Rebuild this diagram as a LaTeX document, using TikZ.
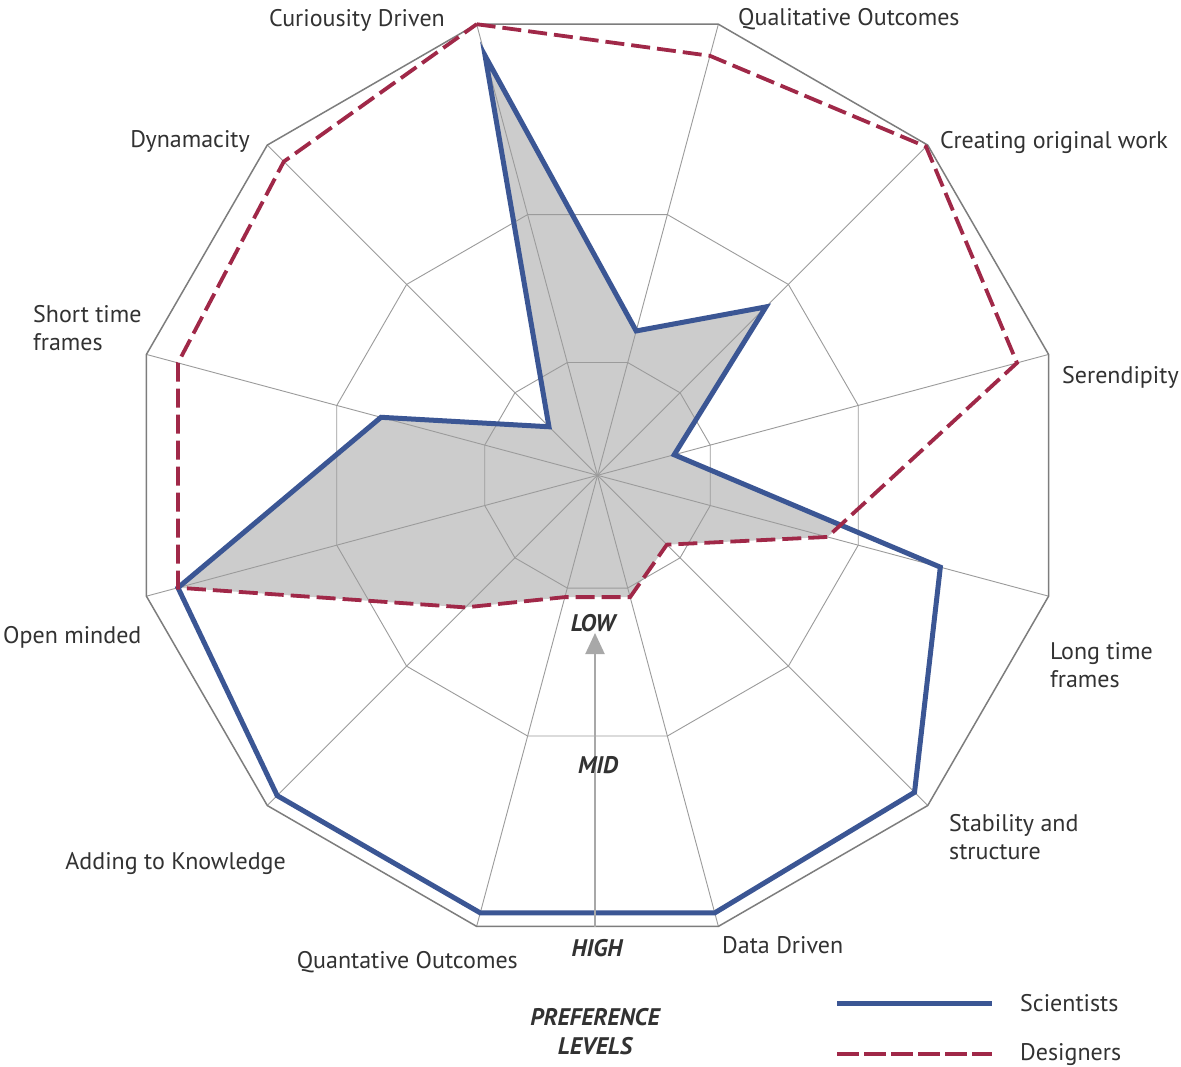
\documentclass[tikz,border=0pt]{standalone}
\usepackage{fontspec}
\setmainfont{PT Sans}
\usetikzlibrary{arrows.meta}
\definecolor{sciblue}{RGB}{59,86,148}
\definecolor{desred}{RGB}{160,40,72}
\definecolor{gridgray}{RGB}{155,155,155}
\definecolor{outergray}{RGB}{125,125,125}
\definecolor{fillgray}{RGB}{204,204,204}
\definecolor{txt}{RGB}{50,50,50}
\definecolor{arrowgray}{RGB}{168,168,168}
\begin{document}
\begin{tikzpicture}[x=1pt,y=-1pt,
  lbl/.style={font=\fontsize{24}{28}\selectfont, text=txt, inner sep=0pt, align=left},
  lvl/.style={font=\fontsize{24}{29}\selectfont\bfseries\itshape, text=txt, inner sep=0pt, align=center},
  gridline/.style={draw=gridgray, line width=0.9pt},
  outerline/.style={draw=outergray, line width=1.5pt},
  sciline/.style={draw=sciblue, line width=5pt, line join=miter},
  desline/.style={draw=desred, line width=3.8pt, dash pattern=on 19pt off 7pt, line join=miter},
  scalearrow/.style={draw=arrowgray, line width=2pt, -{Triangle[width=19pt,length=21pt]}}
]
\fill[white] (0,0) rectangle (1181,1066);
\useasboundingbox (0,0) rectangle (1181,1066);

\begin{scope}[shift={(597.5,475.3)}, yscale=-1]
  \def\R{467}
  \coordinate (O) at (0,0);
  \foreach \i/\a in {0/105,1/75,2/45,3/15,4/-15,5/-45,6/-75,7/-105,8/-135,9/-165,10/165,11/135}{
    \coordinate (ax\i) at ({\a}:{\R});
  }
  % scientists values
  \foreach \i/\a/\v in {0/105/0.93,1/75/0.32,2/45/0.51,3/15/0.17,4/-15/0.76,5/-45/0.96,6/-75/0.97,7/-105/0.97,8/-135/0.97,9/-165/0.93,10/165/0.48,11/135/0.147}{
    \coordinate (s\i) at ({\a}:{\v*\R});
  }
  % designers values
  \foreach \i/\a/\v in {0/105/1.0,1/75/0.93,2/45/0.995,3/15/0.93,4/-15/0.51,5/-45/0.21,6/-75/0.27,7/-105/0.27,8/-135/0.40,9/-165/0.93,10/165/0.93,11/135/0.95}{
    \coordinate (d\i) at ({\a}:{\v*\R});
  }
  % shared region
  \begin{scope}
    \clip (d0) -- (d1) -- (d2) -- (d3) -- (d4) -- (d5) -- (d6) -- (d7) -- (d8) -- (d9) -- (d10) -- (d11) -- cycle;
    \fill[fillgray] (s0) -- (s1) -- (s2) -- (s3) -- (s4) -- (s5) -- (s6) -- (s7) -- (s8) -- (s9) -- (s10) -- (s11) -- cycle;
  \end{scope}
  % grid rings
  \foreach \f in {0.25,0.578}{
    \draw[gridline] ({15}:{\f*\R}) \foreach \a in {45,75,...,345}{ -- ({\a}:{\f*\R})} -- cycle;
  }
  \foreach \i in {0,...,11}{
    \draw[gridline] (O) -- (ax\i);
  }
  \draw[outerline] (ax0) -- (ax1) -- (ax2) -- (ax3) -- (ax4) -- (ax5) -- (ax6) -- (ax7) -- (ax8) -- (ax9) -- (ax10) -- (ax11) -- cycle;
  % data
  \draw[sciline] (s0) -- (s1) -- (s2) -- (s3) -- (s4) -- (s5) -- (s6) -- (s7) -- (s8) -- (s9) -- (s10) -- (s11) -- cycle;
  \draw[desline] (d0) -- (d1) -- (d2) -- (d3) -- (d4) -- (d5) -- (d6) -- (d7) -- (d8) -- (d9) -- (d10) -- (d11) -- cycle;
\end{scope}

% scale arrow
\coordinate (arrFrom) at (595,927);
\coordinate (arrTo) at (595,633);
\draw[scalearrow] (arrFrom) -- (arrTo);

% axis labels
\node[lbl, anchor=base east] (lCur) at (445,26) {Curiousity Driven};
\node[lbl, anchor=base west] (lQual) at (738,25) {Qualitative Outcomes};
\node[lbl, anchor=base west] (lCre) at (940,148) {Creating original work};
\node[lbl, anchor=base west] (lSer) at (1062,383) {Serendipity};
\node[lbl, anchor=base west] (lLong) at (1050,687) {Long time\\frames};
\node[lbl, anchor=base west] (lStab) at (949,859) {Stability and\\structure};
\node[lbl, anchor=base west] (lData) at (722,953) {Data Driven};
\node[lbl, anchor=base east] (lQuan) at (518,968) {Quantative Outcomes};
\node[lbl, anchor=base east] (lAdd) at (286,869) {Adding to Knowledge};
\node[lbl, anchor=base west] (lOpen) at (3,643) {Open minded};
\node[lbl, anchor=base west] (lShort) at (33,350) {Short time\\frames};
\node[lbl, anchor=base east] (lDyn) at (250,147) {Dynamacity};

% level labels
\node[lvl, anchor=base] (lLow) at (593,631) {LOW};
\node[lvl, anchor=base] (lMid) at (598,773) {MID};
\node[lvl, anchor=base] (lHigh) at (597,956) {HIGH};
\node[lvl, anchor=base] (lPref) at (595,1054) {PREFERENCE\\LEVELS};

% legend
\coordinate (legS1) at (837,1003);
\coordinate (legS2) at (992,1003);
\coordinate (legD1) at (837,1054);
\coordinate (legD2) at (992,1054);
\draw[draw=sciblue, line width=5pt] (legS1) -- (legS2);
\draw[draw=desred, line width=3.8pt, dash pattern=on 22pt off 5pt] (legD1) -- (legD2);
\node[lbl, anchor=base west] (lSci) at (1020,1011) {Scientists};
\node[lbl, anchor=base west] (lDes) at (1020,1060) {Designers};
\end{tikzpicture}
\end{document}
